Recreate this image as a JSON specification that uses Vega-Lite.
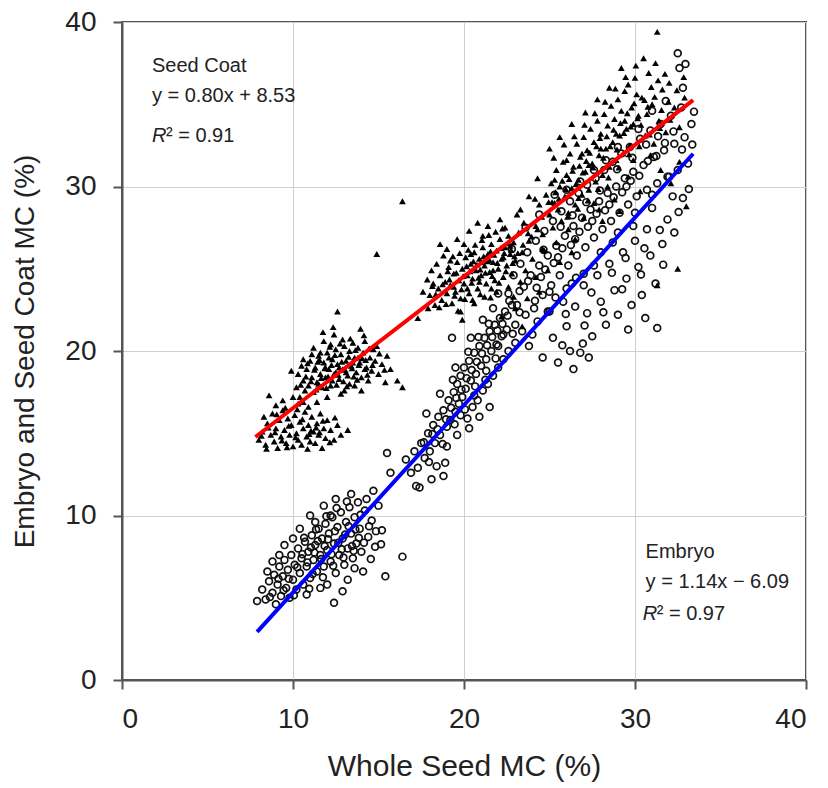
{
"$schema":"https://vega.github.io/schema/vega-lite/v6.json",
"width":684,"height":658,
"autosize":{"type":"none"},
"padding":{"left":122,"top":22,"right":22,"bottom":107},
"background":"white",
"config":{"view":{"stroke":"#555","strokeWidth":2},"font":"Liberation Sans",
"axis":{"grid":true,"gridColor":"#cfcfcf","gridWidth":1,"domainColor":"#555","domainWidth":2,"tickColor":"#555","tickWidth":2,"tickSize":9,"labelFontSize":28,"labelColor":"#222","titleFontWeight":"normal","titleColor":"#222","labelFont":"Liberation Sans","titleFont":"Liberation Sans"}},
"datasets":{
"coat":[
{"x":8.0,"y":14.6},{"x":8.2,"y":15.1},{"x":8.4,"y":14.3},{"x":8.5,"y":15.6},{"x":8.7,"y":14.9},{"x":8.8,"y":16.2},{"x":8.9,"y":14.5},{"x":9.0,"y":15.3},{"x":9.1,"y":14.1},{"x":9.2,"y":15.8},{"x":9.3,"y":14.8},{"x":9.4,"y":16.4},{"x":9.5,"y":15.2},{"x":9.6,"y":14.4},{"x":9.7,"y":15.9},{"x":9.8,"y":14.9},{"x":9.9,"y":15.5},{"x":10.0,"y":14.2},{"x":10.1,"y":16.1},{"x":10.2,"y":15.0},{"x":10.3,"y":14.6},{"x":10.4,"y":15.7},{"x":10.5,"y":14.3},{"x":10.6,"y":15.3},{"x":10.7,"y":16.3},{"x":10.8,"y":14.8},{"x":10.9,"y":15.5},{"x":11.0,"y":14.5},{"x":11.1,"y":16.0},{"x":11.2,"y":15.1},{"x":11.3,"y":14.4},{"x":11.4,"y":15.6},{"x":11.5,"y":14.9},{"x":11.6,"y":16.2},{"x":11.8,"y":15.3},{"x":11.9,"y":14.7},{"x":12.0,"y":15.8},{"x":12.2,"y":15.2},{"x":12.4,"y":14.6},{"x":12.6,"y":15.5},{"x":8.6,"y":17.3},{"x":9.4,"y":17.0},{"x":10.0,"y":17.2},{"x":12.8,"y":14.9},{"x":13.2,"y":15.2},{"x":9.9,"y":18.8},{"x":8.3,"y":16.0},{"x":9.0,"y":16.7},{"x":10.6,"y":16.9},{"x":11.7,"y":14.1},
{"x":8.15,"y":14.85},{"x":8.55,"y":15.35},{"x":8.95,"y":15.05},{"x":9.35,"y":14.55},{"x":9.75,"y":15.45},{"x":10.15,"y":14.75},{"x":10.55,"y":15.85},{"x":10.95,"y":14.95},{"x":11.35,"y":15.35},{"x":11.75,"y":15.75},{"x":9.05,"y":16.15},{"x":9.55,"y":16.55},{"x":10.25,"y":16.45},{"x":11.05,"y":15.15},{"x":12.15,"y":14.45},{"x":8.45,"y":14.05},{"x":9.65,"y":14.15},{"x":10.85,"y":14.05},{"x":12.45,"y":15.95},{"x":11.55,"y":15.05},
{"x":10.2,"y":17.8},{"x":10.3,"y":18.6},{"x":10.4,"y":17.2},{"x":10.5,"y":19.1},{"x":10.6,"y":18.2},{"x":10.7,"y":17.6},{"x":10.8,"y":18.9},{"x":10.9,"y":17.9},{"x":11.0,"y":19.4},{"x":11.1,"y":18.4},{"x":11.2,"y":17.5},{"x":11.3,"y":19.0},{"x":11.4,"y":18.1},{"x":11.5,"y":19.7},{"x":11.6,"y":18.6},{"x":11.7,"y":17.8},{"x":11.8,"y":19.3},{"x":11.9,"y":18.4},{"x":12.0,"y":19.9},{"x":12.1,"y":18.9},{"x":12.2,"y":17.9},{"x":12.3,"y":19.5},{"x":12.4,"y":18.6},{"x":12.5,"y":20.1},{"x":12.6,"y":19.2},{"x":12.7,"y":18.3},{"x":12.8,"y":19.8},{"x":12.9,"y":18.9},{"x":13.0,"y":20.3},{"x":13.1,"y":19.4},{"x":13.2,"y":18.5},{"x":13.3,"y":20.0},{"x":13.4,"y":19.1},{"x":13.5,"y":20.5},{"x":13.6,"y":19.6},{"x":13.7,"y":18.7},{"x":13.8,"y":20.2},{"x":13.9,"y":19.3},{"x":14.0,"y":18.4},{"x":14.1,"y":19.9},{"x":14.2,"y":20.6},{"x":14.3,"y":19.0},{"x":14.4,"y":18.2},{"x":14.5,"y":19.6},{"x":14.6,"y":18.8},{"x":14.8,"y":19.4},{"x":15.0,"y":18.6},{"x":15.2,"y":19.2},{"x":15.4,"y":18.1},{"x":15.7,"y":18.9},{"x":16.1,"y":18.2},{"x":11.2,"y":20.2},{"x":11.8,"y":20.6},{"x":12.4,"y":21.0},{"x":12.6,"y":22.4},{"x":13.0,"y":17.6},{"x":13.6,"y":17.9},{"x":12.0,"y":17.2},{"x":11.4,"y":16.9},{"x":10.9,"y":16.6},{"x":11.6,"y":19.9},{"x":12.2,"y":20.4},{"x":12.9,"y":20.7},{"x":13.3,"y":18.0},{"x":14.7,"y":20.1},{"x":14.0,"y":17.6},{"x":12.8,"y":17.4},{"x":11.1,"y":19.8},{"x":10.6,"y":19.5},{"x":10.3,"y":16.8},{"x":12.3,"y":18.2},{"x":12.7,"y":19.0},{"x":13.1,"y":18.7},{"x":11.9,"y":19.0},{"x":11.5,"y":18.0},{"x":13.5,"y":19.3},{"x":12.1,"y":19.6},{"x":14.2,"y":18.9},{"x":13.8,"y":19.6},{"x":12.5,"y":18.7},{"x":15.5,"y":19.7},{"x":14.9,"y":20.3},{"x":16.4,"y":17.8},{"x":14.9,"y":25.9},{"x":16.4,"y":29.1},
{"x":11.05,"y":18.15},{"x":11.25,"y":18.85},{"x":11.45,"y":19.35},{"x":11.65,"y":18.35},{"x":11.85,"y":18.95},{"x":12.05,"y":18.45},{"x":12.25,"y":19.15},{"x":12.45,"y":19.75},{"x":12.65,"y":18.55},{"x":12.85,"y":19.35},{"x":13.05,"y":18.85},{"x":13.25,"y":19.65},{"x":13.45,"y":18.95},{"x":13.65,"y":20.05},{"x":13.85,"y":19.15},{"x":14.05,"y":19.55},{"x":14.25,"y":19.45},{"x":14.45,"y":20.15},{"x":12.15,"y":20.25},{"x":12.75,"y":20.45},{"x":13.35,"y":20.75},{"x":11.35,"y":17.65},{"x":11.95,"y":17.75},{"x":12.55,"y":17.95},{"x":13.15,"y":17.85},{"x":13.75,"y":18.25},{"x":14.35,"y":18.55},{"x":10.75,"y":18.45},{"x":10.45,"y":17.95},{"x":10.85,"y":19.25},{"x":11.55,"y":19.45},{"x":12.95,"y":18.15},{"x":13.55,"y":18.45},{"x":14.65,"y":19.15},{"x":15.05,"y":19.85},{"x":15.35,"y":18.85},{"x":14.15,"y":20.95},{"x":12.35,"y":21.45},{"x":11.75,"y":21.15},{"x":13.95,"y":21.35},
{"x":18.0,"y":23.4},{"x":18.2,"y":24.1},{"x":18.3,"y":22.8},{"x":18.5,"y":23.8},{"x":18.6,"y":24.6},{"x":18.7,"y":23.1},{"x":18.9,"y":24.2},{"x":19.0,"y":23.5},{"x":19.1,"y":25.1},{"x":19.2,"y":24.0},{"x":19.3,"y":22.9},{"x":19.4,"y":24.7},{"x":19.5,"y":23.6},{"x":19.6,"y":25.4},{"x":19.7,"y":24.3},{"x":19.8,"y":23.2},{"x":19.9,"y":25.0},{"x":20.0,"y":24.1},{"x":20.1,"y":25.7},{"x":20.2,"y":24.6},{"x":20.3,"y":23.5},{"x":20.4,"y":25.3},{"x":20.5,"y":24.4},{"x":20.6,"y":26.0},{"x":20.7,"y":24.9},{"x":20.8,"y":23.8},{"x":20.9,"y":25.6},{"x":21.0,"y":24.6},{"x":21.1,"y":26.3},{"x":21.2,"y":25.2},{"x":21.3,"y":24.1},{"x":21.4,"y":25.9},{"x":21.5,"y":24.8},{"x":21.6,"y":26.5},{"x":21.7,"y":25.4},{"x":21.8,"y":24.3},{"x":21.9,"y":26.1},{"x":22.0,"y":25.0},{"x":22.1,"y":26.8},{"x":22.2,"y":25.6},{"x":22.3,"y":24.5},{"x":22.4,"y":26.3},{"x":22.5,"y":25.2},{"x":22.6,"y":27.0},{"x":22.7,"y":25.9},{"x":22.8,"y":24.7},{"x":22.9,"y":26.6},{"x":23.0,"y":25.5},{"x":23.2,"y":27.2},{"x":23.4,"y":26.0},{"x":23.6,"y":24.9},{"x":23.8,"y":26.7},{"x":24.0,"y":25.6},{"x":19.0,"y":26.2},{"x":19.6,"y":26.8},{"x":20.3,"y":27.3},{"x":20.8,"y":27.8},{"x":21.4,"y":27.6},{"x":22.1,"y":28.0},{"x":19.8,"y":22.4},{"x":20.6,"y":22.9},{"x":21.2,"y":23.3},{"x":21.9,"y":23.6},{"x":22.6,"y":23.9},{"x":23.3,"y":24.2},{"x":18.4,"y":25.3},{"x":17.6,"y":23.6},{"x":17.9,"y":22.6},{"x":18.8,"y":25.8},{"x":20.0,"y":26.5},{"x":20.4,"y":25.9},{"x":21.0,"y":25.4},{"x":21.5,"y":25.5},{"x":20.9,"y":24.2},{"x":20.2,"y":23.8},{"x":19.4,"y":23.9},{"x":21.7,"y":24.9},{"x":22.3,"y":25.7},{"x":22.7,"y":26.4},{"x":19.2,"y":25.5},{"x":20.5,"y":23.1},{"x":21.6,"y":23.8},{"x":18.1,"y":24.9},{"x":23.5,"y":27.8},{"x":23.1,"y":28.3},{"x":24.3,"y":27.4},{"x":24.6,"y":26.2},{"x":17.3,"y":22.0},{"x":19.9,"y":21.9},{"x":22.9,"y":23.3},{"x":24.2,"y":24.5},{"x":18.6,"y":26.5},{"x":21.1,"y":27.0},{"x":22.4,"y":27.5},
{"x":18.35,"y":23.45},{"x":18.75,"y":24.05},{"x":19.15,"y":24.35},{"x":19.55,"y":24.75},{"x":19.95,"y":24.55},{"x":20.15,"y":25.15},{"x":20.35,"y":24.85},{"x":20.55,"y":25.45},{"x":20.75,"y":25.25},{"x":20.95,"y":24.95},{"x":21.15,"y":25.75},{"x":21.35,"y":25.45},{"x":21.55,"y":26.05},{"x":21.75,"y":25.85},{"x":21.95,"y":25.35},{"x":22.15,"y":26.25},{"x":22.35,"y":25.95},{"x":22.55,"y":26.55},{"x":22.75,"y":26.15},{"x":22.95,"y":25.75},{"x":19.35,"y":25.75},{"x":19.75,"y":25.95},{"x":20.25,"y":26.15},{"x":20.65,"y":26.45},{"x":21.05,"y":26.75},{"x":21.45,"y":27.05},{"x":21.85,"y":27.25},{"x":22.25,"y":27.45},{"x":19.05,"y":24.85},{"x":19.45,"y":23.35},{"x":19.85,"y":23.75},{"x":20.05,"y":23.15},{"x":20.45,"y":24.15},{"x":20.85,"y":24.45},{"x":21.25,"y":24.75},{"x":21.65,"y":24.55},{"x":22.05,"y":24.15},{"x":22.45,"y":24.85},{"x":22.85,"y":25.35},{"x":23.15,"y":25.95},{"x":23.45,"y":26.45},{"x":23.75,"y":27.15},{"x":18.55,"y":22.65},{"x":18.95,"y":22.85},{"x":19.65,"y":22.45},{"x":20.95,"y":23.45},{"x":21.55,"y":23.25},{"x":18.15,"y":23.95},{"x":17.85,"y":24.35},{"x":23.95,"y":26.95},
{"x":22.2,"y":22.1},{"x":23.0,"y":22.6},{"x":23.7,"y":23.2},{"x":24.4,"y":23.6},{"x":24.9,"y":24.9},{"x":25.6,"y":25.4},{"x":26.3,"y":26.0},{"x":23.4,"y":21.5},
{"x":24.2,"y":27.6},{"x":24.4,"y":28.9},{"x":24.6,"y":27.1},{"x":24.8,"y":29.5},{"x":25.0,"y":28.3},{"x":25.1,"y":30.2},{"x":25.2,"y":27.5},{"x":25.3,"y":29.0},{"x":25.4,"y":31.0},{"x":25.5,"y":28.6},{"x":25.6,"y":30.0},{"x":25.7,"y":27.9},{"x":25.8,"y":31.5},{"x":25.9,"y":29.4},{"x":26.0,"y":30.7},{"x":26.1,"y":28.4},{"x":26.2,"y":32.0},{"x":26.3,"y":29.9},{"x":26.4,"y":31.2},{"x":26.5,"y":28.9},{"x":26.6,"y":32.6},{"x":26.7,"y":30.4},{"x":26.8,"y":31.8},{"x":26.9,"y":29.5},{"x":27.0,"y":33.0},{"x":27.1,"y":30.9},{"x":27.2,"y":32.2},{"x":27.3,"y":29.8},{"x":27.4,"y":33.5},{"x":27.5,"y":31.4},{"x":27.6,"y":32.7},{"x":27.7,"y":30.3},{"x":27.8,"y":34.0},{"x":27.9,"y":31.9},{"x":28.0,"y":33.2},{"x":28.1,"y":30.7},{"x":28.2,"y":34.4},{"x":28.3,"y":32.3},{"x":28.4,"y":33.7},{"x":28.5,"y":31.2},{"x":28.6,"y":34.9},{"x":28.7,"y":32.7},{"x":28.8,"y":34.1},{"x":28.9,"y":31.6},{"x":29.0,"y":35.3},{"x":29.1,"y":33.1},{"x":29.2,"y":34.6},{"x":29.3,"y":32.0},{"x":29.4,"y":35.8},{"x":29.5,"y":33.5},{"x":29.6,"y":36.2},{"x":29.7,"y":32.5},{"x":29.8,"y":34.8},{"x":29.9,"y":33.8},{"x":30.0,"y":36.6},{"x":30.2,"y":34.3},{"x":30.4,"y":35.4},{"x":30.6,"y":33.1},{"x":30.8,"y":36.9},{"x":31.0,"y":35.0},{"x":31.2,"y":37.5},{"x":31.4,"y":34.0},{"x":31.6,"y":35.9},{"x":31.8,"y":33.3},{"x":32.0,"y":36.3},{"x":32.3,"y":34.8},{"x":32.6,"y":33.6},{"x":32.9,"y":35.4},{"x":31.3,"y":39.4},{"x":30.5,"y":37.8},{"x":29.2,"y":37.2},{"x":32.5,"y":25.0},{"x":31.3,"y":24.0},{"x":33.0,"y":28.8},{"x":32.1,"y":30.2},{"x":31.5,"y":31.0},{"x":30.3,"y":29.7},{"x":29.6,"y":30.6},{"x":28.8,"y":29.2},{"x":27.9,"y":28.6},{"x":27.0,"y":28.1},{"x":26.1,"y":27.4},{"x":25.4,"y":26.6},{"x":24.7,"y":26.1},{"x":26.5,"y":26.8},{"x":28.1,"y":27.9},{"x":29.1,"y":28.5},{"x":30.9,"y":31.9},{"x":32.6,"y":31.5},{"x":25.0,"y":32.3},{"x":25.6,"y":33.0},{"x":26.3,"y":33.8},{"x":27.1,"y":34.5},{"x":27.8,"y":35.3},{"x":28.5,"y":36.0},{"x":24.3,"y":30.5},{"x":23.8,"y":29.4},{"x":23.3,"y":28.6},{"x":26.7,"y":29.3},{"x":27.6,"y":29.0},{"x":28.4,"y":30.0},{"x":26.0,"y":31.6},{"x":27.3,"y":31.3},{"x":28.9,"y":33.2},{"x":29.9,"y":31.6},{"x":31.1,"y":32.6},{"x":30.1,"y":35.6},{"x":28.0,"y":32.3},{"x":26.9,"y":32.0},{"x":25.3,"y":30.4},{"x":29.4,"y":34.0},{"x":30.7,"y":34.4},
{"x":25.15,"y":29.05},{"x":25.35,"y":29.65},{"x":25.55,"y":29.25},{"x":25.75,"y":30.35},{"x":25.95,"y":29.85},{"x":26.15,"y":30.45},{"x":26.35,"y":30.95},{"x":26.55,"y":30.15},{"x":26.75,"y":31.25},{"x":26.95,"y":30.85},{"x":27.15,"y":31.55},{"x":27.35,"y":32.05},{"x":27.55,"y":31.15},{"x":27.75,"y":32.45},{"x":27.95,"y":32.95},{"x":28.15,"y":31.75},{"x":28.35,"y":33.05},{"x":28.55,"y":32.45},{"x":28.75,"y":33.45},{"x":28.95,"y":32.25},{"x":29.15,"y":33.85},{"x":29.35,"y":33.25},{"x":29.55,"y":34.45},{"x":29.75,"y":33.65},{"x":29.95,"y":35.05},{"x":30.15,"y":34.15},{"x":30.35,"y":33.75},{"x":30.55,"y":35.25},{"x":30.75,"y":34.85},{"x":30.95,"y":36.05},{"x":31.15,"y":35.45},{"x":31.35,"y":36.45},{"x":31.55,"y":34.65},{"x":31.75,"y":36.85},{"x":31.95,"y":35.15},{"x":25.25,"y":31.75},{"x":25.85,"y":32.55},{"x":26.45,"y":33.05},{"x":27.05,"y":33.75},{"x":27.65,"y":34.45},{"x":28.25,"y":35.15},{"x":28.85,"y":35.95},{"x":29.45,"y":36.65},{"x":30.05,"y":37.35},{"x":26.05,"y":28.15},{"x":26.65,"y":28.65},{"x":27.25,"y":29.15},{"x":27.85,"y":29.85},{"x":28.45,"y":30.55},{"x":29.05,"y":31.15},{"x":29.65,"y":31.95},{"x":30.25,"y":32.45},{"x":30.85,"y":33.15},{"x":31.45,"y":33.55},{"x":32.05,"y":34.05},{"x":32.45,"y":35.85},{"x":32.85,"y":36.65},{"x":24.55,"y":28.15},{"x":24.95,"y":29.05},{"x":24.15,"y":29.25}
],
"emb":[
{"x":7.9,"y":4.8},{"x":8.2,"y":5.5},{"x":8.4,"y":4.9},{"x":8.6,"y":6.0},{"x":8.8,"y":5.3},{"x":8.9,"y":6.4},{"x":9.0,"y":4.6},{"x":9.1,"y":5.8},{"x":9.2,"y":6.9},{"x":9.3,"y":5.1},{"x":9.4,"y":6.3},{"x":9.5,"y":7.3},{"x":9.6,"y":5.6},{"x":9.7,"y":6.7},{"x":9.8,"y":5.0},{"x":9.9,"y":7.6},{"x":10.0,"y":6.1},{"x":10.1,"y":7.0},{"x":10.2,"y":5.5},{"x":10.3,"y":8.0},{"x":10.4,"y":6.5},{"x":10.5,"y":7.4},{"x":10.6,"y":5.8},{"x":10.7,"y":8.4},{"x":10.8,"y":6.9},{"x":10.9,"y":7.8},{"x":11.0,"y":6.2},{"x":11.1,"y":8.8},{"x":11.2,"y":7.3},{"x":11.3,"y":8.2},{"x":11.4,"y":6.6},{"x":11.5,"y":9.2},{"x":11.6,"y":7.6},{"x":11.7,"y":8.6},{"x":11.8,"y":6.9},{"x":11.9,"y":9.5},{"x":12.0,"y":7.9},{"x":12.1,"y":8.9},{"x":12.2,"y":7.2},{"x":12.3,"y":9.9},{"x":12.4,"y":8.3},{"x":12.5,"y":6.5},{"x":12.6,"y":9.3},{"x":12.7,"y":7.6},{"x":12.8,"y":10.2},{"x":12.9,"y":8.6},{"x":13.0,"y":7.0},{"x":13.1,"y":9.6},{"x":13.2,"y":8.0},{"x":13.3,"y":10.5},{"x":13.4,"y":8.9},{"x":13.5,"y":7.4},{"x":13.6,"y":9.9},{"x":13.7,"y":8.3},{"x":13.8,"y":10.8},{"x":13.9,"y":9.2},{"x":14.0,"y":7.8},{"x":14.2,"y":10.3},{"x":14.4,"y":8.7},{"x":14.6,"y":9.7},{"x":14.8,"y":8.1},{"x":15.0,"y":10.6},{"x":15.2,"y":9.1},{"x":15.4,"y":6.3},{"x":16.4,"y":7.5},{"x":15.5,"y":13.8},{"x":15.7,"y":12.6},{"x":17.2,"y":11.8},{"x":12.4,"y":4.7},{"x":11.6,"y":5.6},{"x":13.2,"y":6.1},{"x":14.1,"y":6.6},{"x":10.4,"y":9.2},{"x":11.0,"y":10.0},{"x":11.8,"y":10.6},{"x":12.5,"y":11.0},{"x":9.5,"y":8.2},{"x":8.8,"y":7.2},{"x":13.4,"y":11.3},{"x":14.3,"y":11.0},{"x":14.7,"y":11.5},{"x":10.8,"y":5.2},{"x":12.0,"y":5.8},{"x":12.9,"y":5.4},{"x":11.3,"y":9.6},{"x":12.2,"y":10.0},{"x":10.0,"y":8.6},{"x":9.2,"y":7.6},{"x":8.5,"y":6.6},{"x":13.6,"y":6.8},
{"x":10.25,"y":6.85},{"x":10.55,"y":7.65},{"x":10.85,"y":7.15},{"x":11.05,"y":8.05},{"x":11.25,"y":7.75},{"x":11.45,"y":8.45},{"x":11.65,"y":7.35},{"x":11.85,"y":8.15},{"x":12.05,"y":8.55},{"x":12.25,"y":7.65},{"x":12.45,"y":9.05},{"x":12.65,"y":8.35},{"x":12.85,"y":7.95},{"x":13.05,"y":8.85},{"x":13.25,"y":9.35},{"x":13.45,"y":8.15},{"x":13.65,"y":9.15},{"x":13.85,"y":8.65},{"x":11.15,"y":6.45},{"x":11.75,"y":6.25},{"x":12.35,"y":6.95},{"x":12.95,"y":7.45},{"x":13.55,"y":7.85},{"x":14.15,"y":8.35},{"x":14.45,"y":9.35},{"x":10.65,"y":8.65},{"x":11.35,"y":9.15},{"x":11.95,"y":9.95},{"x":12.55,"y":10.45},{"x":13.15,"y":10.85},{"x":9.75,"y":6.15},{"x":9.45,"y":5.45},{"x":10.05,"y":5.15},{"x":10.95,"y":5.55},{"x":8.65,"y":5.05},{"x":9.15,"y":6.15},{"x":13.95,"y":10.05},{"x":14.85,"y":9.05},{"x":15.15,"y":8.25},{"x":14.55,"y":7.35},
{"x":16.6,"y":13.4},{"x":16.9,"y":12.6},{"x":17.1,"y":13.9},{"x":17.3,"y":12.9},{"x":17.5,"y":14.4},{"x":17.7,"y":13.5},{"x":17.9,"y":15.0},{"x":18.0,"y":13.9},{"x":18.2,"y":15.5},{"x":18.3,"y":14.4},{"x":18.5,"y":16.0},{"x":18.6,"y":14.9},{"x":18.8,"y":12.4},{"x":18.9,"y":13.2},{"x":18.8,"y":16.4},{"x":19.0,"y":15.4},{"x":19.1,"y":17.0},{"x":19.2,"y":15.8},{"x":19.3,"y":20.8},{"x":19.4,"y":17.5},{"x":19.5,"y":16.3},{"x":19.6,"y":18.0},{"x":19.7,"y":16.8},{"x":19.8,"y":18.5},{"x":19.9,"y":17.2},{"x":20.0,"y":19.0},{"x":20.1,"y":17.7},{"x":20.2,"y":15.9},{"x":20.3,"y":19.4},{"x":20.4,"y":18.2},{"x":20.5,"y":16.6},{"x":20.6,"y":19.9},{"x":20.7,"y":18.6},{"x":20.8,"y":17.0},{"x":20.9,"y":20.3},{"x":21.0,"y":19.1},{"x":21.1,"y":17.6},{"x":21.2,"y":20.8},{"x":21.3,"y":19.5},{"x":21.4,"y":18.0},{"x":21.5,"y":21.2},{"x":21.6,"y":20.0},{"x":21.7,"y":18.5},{"x":21.8,"y":21.6},{"x":21.9,"y":20.4},{"x":22.0,"y":19.0},{"x":22.1,"y":22.0},{"x":22.2,"y":20.9},{"x":22.3,"y":19.5},{"x":22.4,"y":22.4},{"x":22.5,"y":21.3},{"x":22.6,"y":20.0},{"x":22.8,"y":22.8},{"x":23.0,"y":21.6},{"x":18.4,"y":13.0},{"x":19.0,"y":14.2},{"x":19.6,"y":14.9},{"x":20.3,"y":15.3},{"x":20.9,"y":16.0},{"x":21.5,"y":16.6},{"x":17.8,"y":16.2},{"x":18.6,"y":17.4},{"x":19.5,"y":19.0},{"x":20.4,"y":20.8},{"x":21.1,"y":21.9},{"x":18.1,"y":12.2},{"x":17.4,"y":11.7},{"x":19.8,"y":16.1},{"x":20.6,"y":17.3},{"x":21.3,"y":18.8},{"x":22.0,"y":20.3},
{"x":18.45,"y":15.25},{"x":18.95,"y":15.85},{"x":19.25,"y":16.55},{"x":19.55,"y":17.15},{"x":19.85,"y":17.65},{"x":20.15,"y":18.35},{"x":20.45,"y":18.85},{"x":20.75,"y":19.35},{"x":21.05,"y":19.85},{"x":21.35,"y":20.35},{"x":21.65,"y":20.85},{"x":21.95,"y":21.25},{"x":22.25,"y":21.65},{"x":22.55,"y":22.15},{"x":18.75,"y":14.35},{"x":19.45,"y":15.55},{"x":20.05,"y":16.45},{"x":20.65,"y":17.85},{"x":21.25,"y":18.25},{"x":21.85,"y":19.55},{"x":17.65,"y":14.45},{"x":18.15,"y":14.95},{"x":19.35,"y":18.25},{"x":20.25,"y":19.95},{"x":20.85,"y":20.85},{"x":21.45,"y":21.65},{"x":22.85,"y":21.05},{"x":23.25,"y":22.35},{"x":17.95,"y":13.25},{"x":22.65,"y":23.05},
{"x":22.6,"y":23.5},{"x":22.9,"y":24.6},{"x":23.1,"y":22.8},{"x":23.3,"y":25.3},{"x":23.5,"y":23.9},{"x":23.7,"y":26.0},{"x":23.9,"y":24.6},{"x":24.1,"y":22.6},{"x":24.2,"y":26.7},{"x":24.4,"y":25.2},{"x":24.6,"y":23.4},{"x":24.7,"y":27.3},{"x":24.9,"y":25.8},{"x":25.1,"y":24.0},{"x":25.2,"y":27.9},{"x":25.4,"y":26.4},{"x":25.6,"y":24.6},{"x":25.7,"y":28.5},{"x":25.9,"y":27.0},{"x":26.1,"y":25.2},{"x":26.2,"y":29.1},{"x":26.4,"y":27.6},{"x":26.6,"y":25.8},{"x":26.7,"y":29.6},{"x":26.9,"y":28.1},{"x":27.1,"y":26.3},{"x":27.2,"y":30.1},{"x":27.4,"y":28.6},{"x":27.6,"y":26.9},{"x":27.7,"y":30.5},{"x":27.9,"y":29.1},{"x":28.1,"y":27.4},{"x":28.2,"y":31.0},{"x":28.4,"y":29.6},{"x":28.6,"y":27.9},{"x":28.7,"y":31.5},{"x":28.9,"y":30.0},{"x":29.1,"y":28.4},{"x":29.2,"y":32.0},{"x":29.4,"y":30.5},{"x":29.6,"y":28.9},{"x":29.7,"y":32.4},{"x":29.9,"y":30.9},{"x":30.1,"y":29.4},{"x":30.3,"y":32.9},{"x":30.5,"y":31.3},{"x":30.7,"y":29.8},{"x":30.9,"y":33.4},{"x":31.1,"y":31.8},{"x":31.3,"y":30.2},{"x":31.5,"y":33.8},{"x":31.7,"y":32.2},{"x":31.9,"y":30.6},{"x":32.1,"y":34.3},{"x":32.3,"y":32.6},{"x":32.5,"y":31.0},{"x":32.7,"y":34.8},{"x":32.9,"y":33.0},{"x":33.1,"y":31.4},{"x":33.3,"y":33.8},{"x":32.5,"y":38.1},{"x":32.6,"y":37.2},{"x":32.8,"y":36.0},{"x":32.2,"y":29.4},{"x":32.8,"y":29.3},{"x":31.8,"y":35.2},
{"x":23.4,"y":21.2},{"x":23.8,"y":20.3},{"x":24.3,"y":21.8},{"x":24.6,"y":19.6},{"x":24.9,"y":22.4},{"x":25.2,"y":20.8},{"x":25.5,"y":19.3},{"x":25.8,"y":23.0},{"x":26.0,"y":21.5},{"x":26.2,"y":20.0},{"x":26.5,"y":22.7},{"x":26.8,"y":19.9},{"x":27.0,"y":24.0},{"x":27.2,"y":22.3},{"x":27.5,"y":20.9},{"x":27.8,"y":24.6},{"x":28.0,"y":23.0},{"x":28.3,"y":21.6},{"x":28.5,"y":25.3},{"x":28.8,"y":23.7},{"x":29.0,"y":22.2},{"x":29.3,"y":26.0},{"x":29.5,"y":24.4},{"x":29.8,"y":22.8},{"x":30.0,"y":26.7},{"x":30.2,"y":25.1},{"x":30.4,"y":23.4},{"x":30.7,"y":27.4},{"x":30.9,"y":25.8},{"x":31.2,"y":24.1},{"x":31.3,"y":21.4},{"x":31.6,"y":26.5},{"x":31.9,"y":28.0},{"x":32.3,"y":27.2},{"x":26.4,"y":18.9},{"x":27.3,"y":19.6},{"x":29.6,"y":21.3},{"x":30.6,"y":22.0},{"x":25.0,"y":23.6},{"x":26.3,"y":24.1},{"x":27.6,"y":25.2},{"x":28.7,"y":26.6},{"x":29.9,"y":27.6},{"x":31.0,"y":28.7},
{"x":23.0,"y":20.5},{"x":24.0,"y":21.0},{"x":25.0,"y":22.4},{"x":26.0,"y":23.8},{"x":27.0,"y":24.7},{"x":28.0,"y":26.0},{"x":29.0,"y":27.2},{"x":30.0,"y":28.4},{"x":31.0,"y":29.5},{"x":32.0,"y":30.6},{"x":24.5,"y":24.5},{"x":25.5,"y":25.7},{"x":26.5,"y":26.8},{"x":27.5,"y":27.9},{"x":28.5,"y":28.9},{"x":29.5,"y":30.0},{"x":23.6,"y":22.2},{"x":22.3,"y":21.0},{"x":22.0,"y":23.5},{"x":21.7,"y":22.6},{"x":22.8,"y":26.2},{"x":23.6,"y":27.5},{"x":24.4,"y":28.3},{"x":25.3,"y":29.5},{"x":26.0,"y":29.8},{"x":26.8,"y":30.3},{"x":27.6,"y":31.0},{"x":28.3,"y":31.6},{"x":29.0,"y":32.4},{"x":30.2,"y":33.5},{"x":31.0,"y":34.6},
{"x":23.25,"y":23.65},{"x":23.75,"y":24.25},{"x":24.25,"y":23.85},{"x":24.75,"y":24.95},{"x":25.25,"y":25.35},{"x":25.75,"y":26.25},{"x":26.25,"y":26.45},{"x":26.75,"y":27.25},{"x":27.25,"y":27.55},{"x":27.75,"y":28.35},{"x":28.25,"y":28.55},{"x":28.75,"y":29.35},{"x":29.25,"y":29.65},{"x":29.75,"y":30.35},{"x":30.25,"y":30.65},{"x":30.75,"y":31.55},{"x":31.25,"y":31.85},{"x":31.75,"y":32.65},{"x":32.25,"y":33.35},{"x":32.75,"y":32.25},{"x":24.15,"y":23.05},{"x":25.35,"y":23.25},{"x":26.55,"y":24.45},{"x":27.45,"y":23.55},{"x":28.65,"y":24.75},{"x":29.45,"y":25.65},{"x":30.55,"y":26.25},{"x":31.45,"y":27.35},{"x":32.55,"y":28.45},{"x":33.15,"y":29.85},{"x":25.95,"y":22.25},{"x":27.05,"y":21.55},{"x":28.15,"y":22.35},{"x":29.25,"y":23.75},{"x":30.35,"y":24.65},{"x":31.65,"y":25.25},{"x":24.65,"y":26.15},{"x":25.65,"y":27.55},{"x":26.35,"y":28.25},{"x":27.15,"y":29.05},{"x":27.95,"y":29.75},{"x":28.95,"y":31.05},{"x":29.85,"y":31.75},{"x":30.65,"y":32.55},{"x":31.35,"y":33.05},{"x":33.35,"y":32.55},{"x":33.45,"y":34.55},{"x":32.95,"y":37.45},{"x":26.95,"y":20.45},{"x":25.75,"y":20.35}
],
"fit":[
{"g":"coat","x":7.8,"y":14.77},{"g":"coat","x":33.4,"y":35.25},
{"g":"emb","x":7.9,"y":2.92},{"g":"emb","x":33.4,"y":31.99}
],
"lab":[
{"x":1.75,"y":37.35,"t":"Seed Coat"},{"x":1.75,"y":35.5,"t":"y = 0.80x + 8.53"},
{"x":30.62,"y":7.8,"t":"Embryo"},{"x":30.62,"y":5.98,"t":"y = 1.14x − 6.09"}
],
"rlab":[
{"x":1.75,"y":33.1,"r":"R","t":"² = 0.91"},
{"x":30.45,"y":4.0,"r":"R","t":"² = 0.97"}
]
},
"layer":[
{"data":{"name":"emb"},"mark":{"type":"point","shape":"circle","filled":false,"stroke":"#111","strokeWidth":1.7,"size":46,"opacity":1},
"encoding":{"x":{"field":"x","type":"quantitative","scale":{"domain":[0,40],"nice":false},"axis":{"title":"Whole Seed MC (%)","values":[0,10,20,30,40],"labelPadding":16,"titleFontSize":30,"titlePadding":18}},
"y":{"field":"y","type":"quantitative","scale":{"domain":[0,40],"nice":false},"axis":{"title":"Embryo and Seed Coat MC (%)","values":[0,10,20,30,40],"labelPadding":17,"titleFontSize":28,"titlePadding":25}}}},
{"data":{"name":"coat"},"mark":{"type":"point","shape":"triangle-up","filled":true,"fill":"#000","strokeWidth":0,"size":46,"opacity":1},
"encoding":{"x":{"field":"x","type":"quantitative"},"y":{"field":"y","type":"quantitative"}}},
{"data":{"name":"fit"},"mark":{"type":"line","strokeWidth":4},
"encoding":{"x":{"field":"x","type":"quantitative"},"y":{"field":"y","type":"quantitative"},"color":{"field":"g","type":"nominal","scale":{"domain":["coat","emb"],"range":["#ff0000","#0000ff"]},"legend":null}}},
{"data":{"name":"lab"},"mark":{"type":"text","align":"left","baseline":"middle","fontSize":20,"color":"#222"},
"encoding":{"x":{"field":"x","type":"quantitative"},"y":{"field":"y","type":"quantitative"},"text":{"field":"t"}}},
{"data":{"name":"rlab"},"mark":{"type":"text","align":"left","baseline":"middle","fontSize":20,"fontStyle":"italic","color":"#222"},
"encoding":{"x":{"field":"x","type":"quantitative"},"y":{"field":"y","type":"quantitative"},"text":{"field":"r"}}},
{"data":{"name":"rlab"},"mark":{"type":"text","align":"left","baseline":"middle","fontSize":20,"dx":14,"color":"#222"},
"encoding":{"x":{"field":"x","type":"quantitative"},"y":{"field":"y","type":"quantitative"},"text":{"field":"t"}}}
]
}
